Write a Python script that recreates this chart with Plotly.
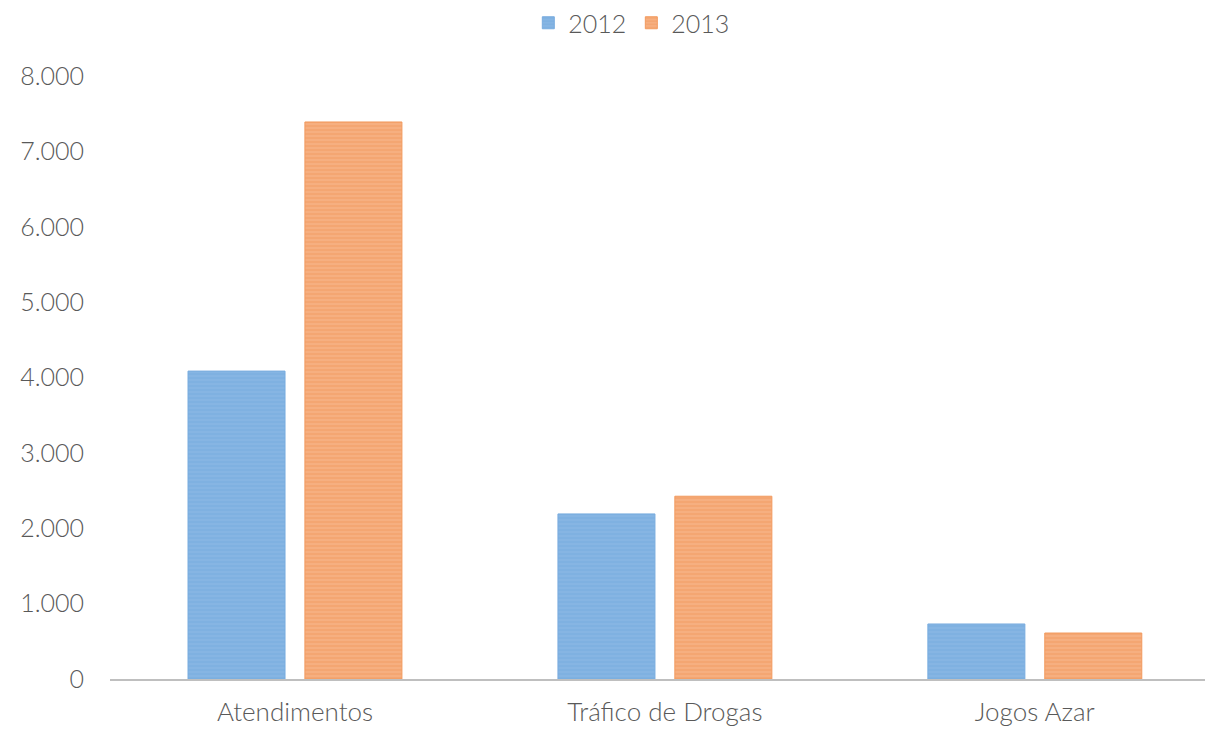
import plotly.graph_objects as go

categories = ["Atendimentos", "Tráfico de Drogas", "Jogos Azar"]
series_names = ["2012", "2013"]
values_2012 = [4085, 2190, 730]
values_2013 = [7390, 2425, 610]
y_ticks = [0, 1000, 2000, 3000, 4000, 5000, 6000, 7000, 8000]

fig = go.Figure()
fig.add_trace(go.Bar(
    name=series_names[0], x=categories, y=values_2012,
    marker=dict(color="#86B5E3", line=dict(width=1, color="#79ACDF"),
                pattern=dict(shape="-", fgcolor="#6CA3DA", size=4, solidity=0.25)),
))
fig.add_trace(go.Bar(
    name=series_names[1], x=categories, y=values_2013,
    marker=dict(color="#F6AF80", line=dict(width=1, color="#F29A5E"),
                pattern=dict(shape="-", fgcolor="#EF8C48", size=4, solidity=0.25)),
))

fig.update_layout(
    width=1215, height=730,
    margin=dict(l=110, r=10, t=76, b=51, autoexpand=False),
    paper_bgcolor="white", plot_bgcolor="white",
    barmode="group", bargap=0.368, bargroupgap=0.17,
    separators=",.",
    font=dict(family="Lato Light, Lato, Open Sans, sans-serif", color="#595959", size=25),
    legend=dict(orientation="h", x=0.52, xref="container", xanchor="center",
                y=1.0, yanchor="top", yref="container",
                font=dict(size=25), itemwidth=30),
    showlegend=True,
)
fig.update_xaxes(showline=True, linecolor="#BFBFBF", linewidth=2, ticks="",
                 range=[-0.5, 2.46],
                 automargin=False, ticklabelstandoff=9, tickfont=dict(size=26))
fig.update_yaxes(range=[0, 8000], tickvals=y_ticks, tickformat=",.0f",
                 showgrid=False, zeroline=False, showline=False, automargin=False,
                 ticks="", ticklen=0, ticklabelstandoff=25, tickfont=dict(size=25))

fig.write_html("out.html", config={"displayModeBar": False},
               post_script="document.body.style.margin='0';document.body.style.padding='0';")
